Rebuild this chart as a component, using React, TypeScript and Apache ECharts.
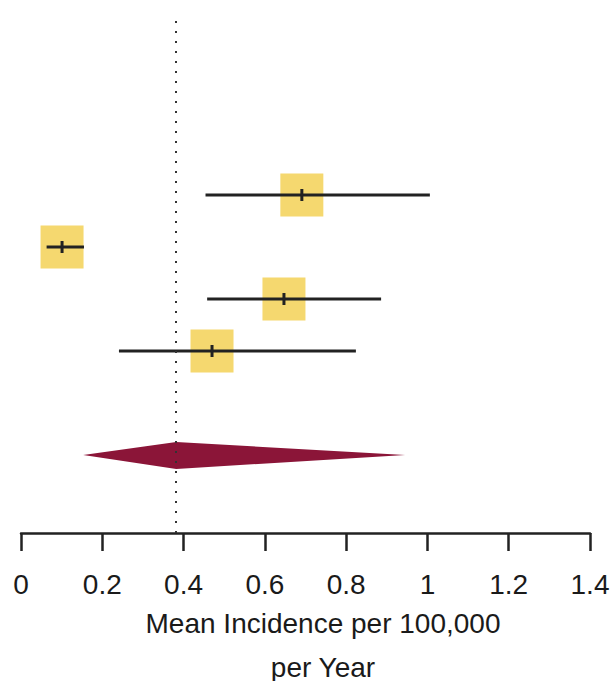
import React, { useEffect, useRef } from "react";
import * as echarts from "echarts";

// Study estimates (mean incidence per 100,000 per year) with 95% CI
const studyEstimates = [0.691, 0.101, 0.647, 0.47];
const studyLower = [0.454, 0.063, 0.458, 0.241];
const studyUpper = [1.006, 0.155, 0.886, 0.824];
const studyRows = [6.5, 5.5, 4.5, 3.5];

// Pooled estimate
const pooledEstimate = 0.382;
const pooledLower = 0.153;
const pooledUpper = 0.945;
const pooledRow = 1.5;

const xTicks = [0, 0.2, 0.4, 0.6, 0.8, 1, 1.2, 1.4];
const xTitle1 = "Mean Incidence per 100,000";
const xTitle2 = "per Year";

const FONT = "'Liberation Sans', Arial, Helvetica, sans-serif";

export default function App() {
  const ref = useRef<HTMLDivElement>(null);
  useEffect(() => {
    if (!ref.current) return;
    document.body.style.margin = "0";
    const chart = echarts.init(ref.current, null, { renderer: "svg" });
    const studyData = studyEstimates.map((e, i) => [e, studyLower[i], studyUpper[i], studyRows[i]]);
    const option: any = {
      animation: false,
      backgroundColor: "#ffffff",
      grid: { left: 21, right: 24, top: 13, bottom: 148 },
      xAxis: {
        type: "value",
        min: xTicks[0],
        max: xTicks[xTicks.length - 1],
        interval: 0.2,
        splitLine: { show: false },
        axisLine: { show: true, lineStyle: { color: "#222", width: 2.5 } },
        axisTick: { show: true, inside: false, length: 18, lineStyle: { color: "#222", width: 2.5 } },
        axisLabel: {
          show: true,
          margin: 37,
          fontSize: 28,
          color: "#1a1a1a",
          fontFamily: FONT,
          formatter: (v: number) => String(Math.round(v * 10) / 10),
        },
      },
      yAxis: {
        type: "value",
        min: 0,
        max: 10,
        show: false,
      },
      series: [
        {
          type: "custom",
          name: "studies",
          data: studyData,
          encode: { x: [0, 1, 2], y: 3 },
          renderItem: (params: any, api: any) => {
            const est = api.value(0);
            const lo = api.value(1);
            const hi = api.value(2);
            const y = api.value(3);
            const c = api.coord([est, y]);
            const l = api.coord([lo, y]);
            const h = api.coord([hi, y]);
            const s = 43;
            return {
              type: "group",
              children: [
                {
                  type: "rect",
                  shape: { x: c[0] - s / 2, y: c[1] - s / 2, width: s, height: s },
                  style: { fill: "#F5D86F" },
                },
                {
                  type: "line",
                  shape: { x1: l[0], y1: l[1], x2: h[0], y2: h[1] },
                  style: { stroke: "#222", lineWidth: 3 },
                },
                {
                  type: "line",
                  shape: { x1: c[0], y1: c[1] - 6, x2: c[0], y2: c[1] + 6 },
                  style: { stroke: "#222", lineWidth: 3 },
                },
              ],
            };
          },
          z: 3,
        },
        {
          type: "custom",
          name: "pooled",
          data: [[pooledEstimate, pooledLower, pooledUpper, pooledRow]],
          encode: { x: [0, 1, 2], y: 3 },
          renderItem: (params: any, api: any) => {
            const y = api.value(3);
            const c = api.coord([api.value(0), y]);
            const l = api.coord([api.value(1), y]);
            const h = api.coord([api.value(2), y]);
            return {
              type: "polygon",
              shape: {
                points: [
                  [l[0], l[1]],
                  [c[0], c[1] - 13],
                  [h[0], h[1]],
                  [c[0], c[1] + 14],
                ],
              },
              style: { fill: "#8B1538" },
            };
          },
          markLine: {
            silent: true,
            symbol: "none",
            label: { show: false },
            lineStyle: { color: "#333", type: [2, 8], width: 2 },
            data: [{ xAxis: pooledEstimate }],
          },
          z: 2,
        },
      ],
      graphic: [
        {
          type: "text",
          x: 323,
          y: 623,
          style: {
            text: xTitle1,
            fontSize: 28,
            fontFamily: FONT,
            fill: "#1a1a1a",
            align: "center",
            verticalAlign: "middle",
          },
        },
        {
          type: "text",
          x: 323,
          y: 667,
          style: {
            text: xTitle2,
            fontSize: 28,
            fontFamily: FONT,
            fill: "#1a1a1a",
            align: "center",
            verticalAlign: "middle",
          },
        },
      ],
    };
    chart.setOption(option);
    return () => chart.dispose();
  }, []);
  return <div ref={ref} style={{ width: 614, height: 681 }} />;
}
